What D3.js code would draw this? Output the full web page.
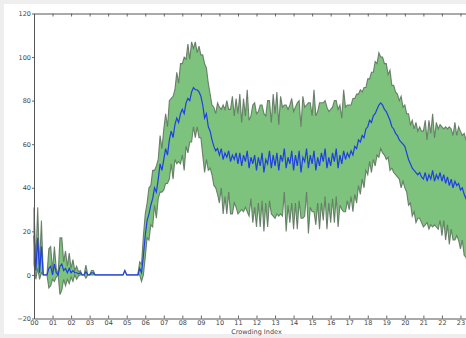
<!DOCTYPE html>
<html>
<head>
<meta charset="utf-8">
<script src="https://cdn.jsdelivr.net/npm/d3@7"></script>
<style>
  body { margin: 0; background: #eeeeee; }
  svg { display: block; }
  .tick text { font-family: "DejaVu Sans", sans-serif; font-size: 6.5px; fill: #444; }
</style>
</head>
<body>
<div id="chart"></div>
<script>
// hour labels on the x axis
var hourLabels = ["00","01","02","03","04","05","06","07","08","09","10","11",
                  "12","13","14","15","16","17","18","19","20","21","22","23"];
var yTicks = [-20, 0, 20, 40, 60, 80, 100, 120];

// one sample every 6 minutes (0.1 h)
var hours = [];
for (var i = 0; i < 238; i++) hours.push(i / 10);

var meanValues = [
  18, 2, 17, 1, 13, 0, 0, 0, 3, 4,
  0, 5, 1, 0, 4, 5, 2, 3, 1, 3,
  1, 2, 1, 1, 0.5, 1, 0, 0, 1.5, 0,
  0, 1, 1, 0, 0, 0, 0, 0, 0, 0,
  0, 0, 0, 0, 0, 0, 0, 0, 0, 2,
  0, 0, 0, 0, 0, 0, 0, 3, 1, 9,
  18, 25, 28, 32, 35, 40, 38, 44, 51, 48,
  53, 58, 55, 62, 66, 63, 69, 72, 70, 74,
  76, 74, 79, 81, 80, 84, 86, 85, 85, 84,
  82, 78, 72, 74, 68, 66, 62, 59, 57, 58,
  55, 58, 53, 56, 54, 57, 52, 55, 53, 56,
  51, 56, 50, 55, 52, 57, 49, 54, 51, 55,
  48, 54, 50, 56, 47, 53, 51, 57, 49, 55,
  50, 56, 48, 55, 52, 58, 49, 54, 51, 57,
  48, 55, 50, 57, 47, 54, 52, 58, 49, 55,
  51, 57, 48, 54, 50, 56, 52, 58, 49, 54,
  50, 56, 52, 58, 49, 55, 51, 57, 53, 56,
  54, 57, 55, 59, 58, 62, 61, 64, 63, 67,
  68, 71, 70, 73, 74, 76, 78, 79, 78, 76,
  75, 73, 71, 68, 67, 65, 64, 62, 61, 60,
  59, 56, 53, 51, 49, 48, 47, 46, 47, 45,
  44, 47, 43, 46, 44, 48, 43, 46, 44, 47,
  43, 46, 42, 45, 41, 44, 40, 43, 41, 42,
  39, 40, 37, 35, 33, 31, 30, 29
];

var stdValues = [
  13, 4, 14, 3, 12, 0, 0, 0, 9, 9,
  2, 8, 2, 0, 13, 12, 4, 8, 3, 7,
  2, 5, 1, 3, 1, 1, 0, 0, 3, 0,
  0, 1, 1, 0, 0, 0, 0, 0, 0, 0,
  0, 0, 0, 0, 0, 0, 0, 0, 0, 0,
  0, 0, 0, 0, 0, 0, 0, 3, 4, 9,
  10, 8, 12, 9, 13, 8, 12, 9, 13, 10,
  14, 16, 13, 18, 15, 19, 16, 21, 18, 23,
  21, 26, 20, 25, 19, 23, 18, 22, 17, 21,
  19, 23, 25, 21, 20, 17, 16, 18, 17, 21,
  22, 18, 25, 20, 26, 19, 24, 27, 20, 25,
  23, 27, 20, 26, 21, 28, 22, 19, 27, 24,
  26, 21, 28, 22, 27, 20, 29, 23, 21, 28,
  24, 28, 21, 27, 25, 20, 29, 22, 27, 24,
  27, 22, 29, 23, 21, 28, 25, 20, 30, 24,
  22, 28, 25, 21, 29, 23, 27, 22, 28, 21,
  26, 21, 28, 22, 27, 23, 21, 28, 24, 22,
  24, 21, 26, 22, 25, 21, 24, 20, 23, 19,
  22, 19, 23, 20, 24, 21, 24, 21, 22, 21,
  22, 19, 23, 19, 20, 19, 19, 18, 21, 17,
  19, 18, 21, 18, 22, 19, 23, 20, 21, 21,
  22, 24, 19, 25, 21, 26, 20, 24, 23, 22,
  25, 21, 26, 22, 27, 23, 24, 27, 23, 26,
  27, 24, 28, 27, 28, 27, 29, 28
];

var totalW = 466, totalH = 338;
var margin = {top: 13.5, left: 34},
    width = 445,          // 24 hours, right part is cut off by the window
    height = 305;

var svg = d3.select("#chart").append("svg")
    .attr("width", totalW)
    .attr("height", totalH);

svg.append("rect")
    .attr("x", 4).attr("y", 4)
    .attr("width", totalW - 4).attr("height", totalH - 8)
    .attr("fill", "#fff");

var x = d3.scaleLinear().domain([0, 24]).range([margin.left, margin.left + width]);
var y = d3.scaleLinear().domain([-20, 120]).range([margin.top + height, margin.top]);

var data = hours.map(function(h, i) {
  return { h: h, mean: meanValues[i], std: stdValues[i] };
});

// band = mean +/- std
var band = d3.area()
    .x(function(d) { return x(d.h); })
    .y0(function(d) { return y(d.mean - d.std); })
    .y1(function(d) { return y(d.mean + d.std); });

var meanLine = d3.line()
    .x(function(d) { return x(d.h); })
    .y(function(d) { return y(d.mean); });

svg.append("path")
    .datum(data)
    .attr("d", band)
    .attr("fill", "#7dc37d")
    .attr("stroke", "#5a6e5c")
    .attr("stroke-width", 1.1)
    .attr("stroke-opacity", 0.85);

svg.append("path")
    .datum(data)
    .attr("d", meanLine)
    .attr("fill", "none")
    .attr("stroke", "#2040e0")
    .attr("stroke-width", 1.2);

// axes
var xAxis = d3.axisBottom(x)
    .tickValues(d3.range(hourLabels.length))
    .tickFormat(function(d) { return hourLabels[d]; })
    .tickSizeInner(-3).tickSizeOuter(0).tickPadding(2);
var gx = svg.append("g")
    .attr("transform", "translate(0," + (margin.top + height) + ")")
    .call(xAxis);

var gTop = svg.append("g")
    .attr("transform", "translate(0," + margin.top + ")")
    .call(d3.axisTop(x).tickValues(d3.range(hourLabels.length))
      .tickFormat("").tickSizeInner(-3).tickSizeOuter(0));

var gy = svg.append("g")
    .attr("transform", "translate(" + margin.left + ",0)")
    .call(d3.axisLeft(y).tickValues(yTicks).tickSizeInner(2).tickSizeOuter(0).tickPadding(1));

[gx, gTop, gy].forEach(function(g) {
  g.select(".domain").attr("stroke", "#555");
  g.selectAll(".tick line").attr("stroke", "#666");
});

svg.append("text")
    .attr("x", x(12))
    .attr("y", 334)
    .attr("text-anchor", "middle")
    .attr("font-family", "DejaVu Sans, sans-serif")
    .attr("font-size", 6.5)
    .attr("fill", "#444")
    .text("Crowding Index");
</script>
</body>
</html>
